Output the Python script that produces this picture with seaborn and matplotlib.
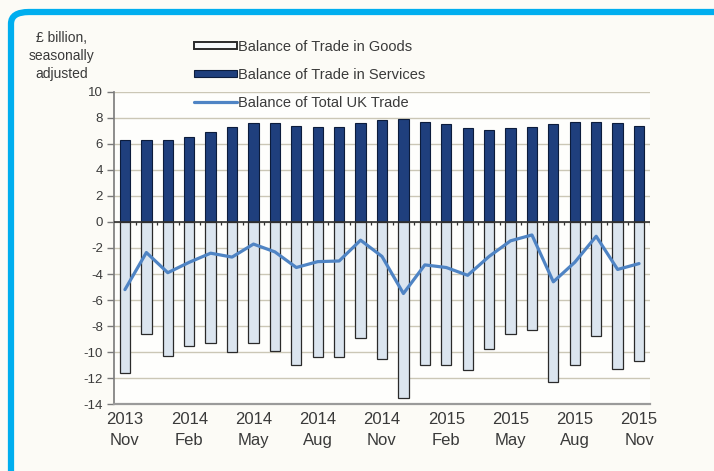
import numpy as np
import pandas as pd
import matplotlib
matplotlib.use("Agg")
import matplotlib.pyplot as plt
from matplotlib.patches import FancyBboxPatch
import seaborn as sns

# Monthly UK trade balances, £ billion, seasonally adjusted (Nov 2013 - Nov 2015)
months = ["Nov 2013", "Dec 2013", "Jan 2014", "Feb 2014", "Mar 2014", "Apr 2014",
          "May 2014", "Jun 2014", "Jul 2014", "Aug 2014", "Sep 2014", "Oct 2014",
          "Nov 2014", "Dec 2014", "Jan 2015", "Feb 2015", "Mar 2015", "Apr 2015",
          "May 2015", "Jun 2015", "Jul 2015", "Aug 2015", "Sep 2015", "Oct 2015",
          "Nov 2015"]
goods = [-11.6, -8.6, -10.3, -9.5, -9.3, -10.0, -9.3, -9.9, -11.0, -10.4, -10.4, -8.9,
         -10.5, -13.5, -11.0, -11.0, -11.4, -9.8, -8.6, -8.3, -12.3, -11.0, -8.8, -11.3,
         -10.7]
services = [6.3, 6.3, 6.3, 6.5, 6.9, 7.3, 7.6, 7.6, 7.4, 7.3, 7.3, 7.6,
            7.8, 7.9, 7.7, 7.5, 7.2, 7.1, 7.2, 7.3, 7.5, 7.7, 7.7, 7.6, 7.4]
total = [-5.2, -2.35, -3.9, -3.1, -2.4, -2.7, -1.7, -2.3, -3.5, -3.05, -3.0, -1.4,
         -2.65, -5.5, -3.3, -3.5, -4.1, -2.65, -1.45, -1.0, -4.6, -3.1, -1.1, -3.65,
         -3.2]
tick_labels = ["2013\nNov", "2014\nFeb", "2014\nMay", "2014\nAug", "2014\nNov",
               "2015\nFeb", "2015\nMay", "2015\nAug", "2015\nNov"]
yticks = list(range(-14, 11, 2))

df = pd.DataFrame({"month": months, "goods": goods, "services": services,
                   "total": total, "pos": np.arange(len(months))})

sns.set_theme(style="white")
plt.rcParams["font.family"] = ["Liberation Sans", "DejaVu Sans"]

BG = "#fcfbf6"
TXT = "#3a3a3a"
fig = plt.figure(figsize=(7.14, 4.71), dpi=100, facecolor=BG)
ax = fig.add_axes([0.160, 0.142, 0.750, 0.663])
ax.set_facecolor("#fefefc")

# cyan frame around the panel
frame = FancyBboxPatch((11 / 714, -0.2), 1.2, 1.2 - 12 / 471,
                       boxstyle="round,pad=0,rounding_size=0.025",
                       transform=fig.transFigure, facecolor="none",
                       edgecolor="#00aeef", linewidth=4.5, zorder=10,
                       clip_on=False)
fig.patches.append(frame)

sns.barplot(data=df, x="month", y="services", ax=ax, color="#1f3f7d",
            edgecolor="#0c1c3c", linewidth=0.8, width=0.48, saturation=1,
            label="Balance of Trade in Services", zorder=3)
sns.barplot(data=df, x="month", y="goods", ax=ax, color="#dbe5ef",
            edgecolor="#2a2a2a", linewidth=0.9, width=0.48, saturation=1,
            label="Balance of Trade in Goods", zorder=3)
sns.lineplot(data=df, x="pos", y="total", ax=ax, color="#4f84c4", linewidth=2.3,
             label="Balance of Total UK Trade", zorder=4)

ax.set_xlim(-0.5, len(months) - 0.5)
ax.set_ylim(-14, 10)
ax.set_yticks(yticks)
ax.set_yticklabels([str(v) for v in yticks], fontsize=9.5, color=TXT)
ax.set_xticks(np.arange(0, len(months), 3))
ax.set_xticklabels(tick_labels, fontsize=12, color=TXT, linespacing=1.45)
ax.set_xlabel("")
ax.set_ylabel("")

for v in yticks[1:]:
    ax.axhline(v, color="#cbc7b6", linewidth=1.0, zorder=1)
ax.axhline(0, color="#303030", linewidth=1.2, zorder=5)
# category tick marks hanging from the zero line
ax.vlines(np.arange(len(months)) + 0.5, -0.22, 0, color="#303030",
          linewidth=0.9, zorder=5)

for side in ["top", "right"]:
    ax.spines[side].set_visible(False)
ax.spines["left"].set_color("#7a7a7a")
ax.spines["left"].set_linewidth(1.2)
ax.spines["bottom"].set_color("#9a9a9a")
ax.spines["bottom"].set_linewidth(1.6)
ax.tick_params(axis="y", which="both", left=True, length=5, width=1,
               color="#7a7a7a", pad=3)
ax.tick_params(axis="x", length=0, pad=6)

fig.text(62 / 714, 1 - 56 / 471, "£ billion,\nseasonally\nadjusted",
         ha="center", va="center", fontsize=10, color=TXT, linespacing=1.35)

handles, labels = ax.get_legend_handles_labels()
order = [labels.index(l) for l in ["Balance of Trade in Goods",
                                   "Balance of Trade in Services",
                                   "Balance of Total UK Trade"]]
if ax.get_legend():
    ax.get_legend().remove()
leg = fig.legend([handles[i] for i in order], [labels[i] for i in order],
                 loc="upper left", bbox_to_anchor=(194 / 714, 1 - 40 / 471),
                 frameon=False, fontsize=10.5, handlelength=2.95, handleheight=0.35,
                 handletextpad=0.05, labelspacing=0.95, borderpad=0,
                 borderaxespad=0, labelcolor=TXT)
# goods key drawn as a pale box with a heavy outline
leg.legend_handles[0].set_facecolor("#f6f8fa")
leg.legend_handles[0].set_linewidth(1.4)

fig.savefig("out.png", dpi=100, facecolor=BG)
